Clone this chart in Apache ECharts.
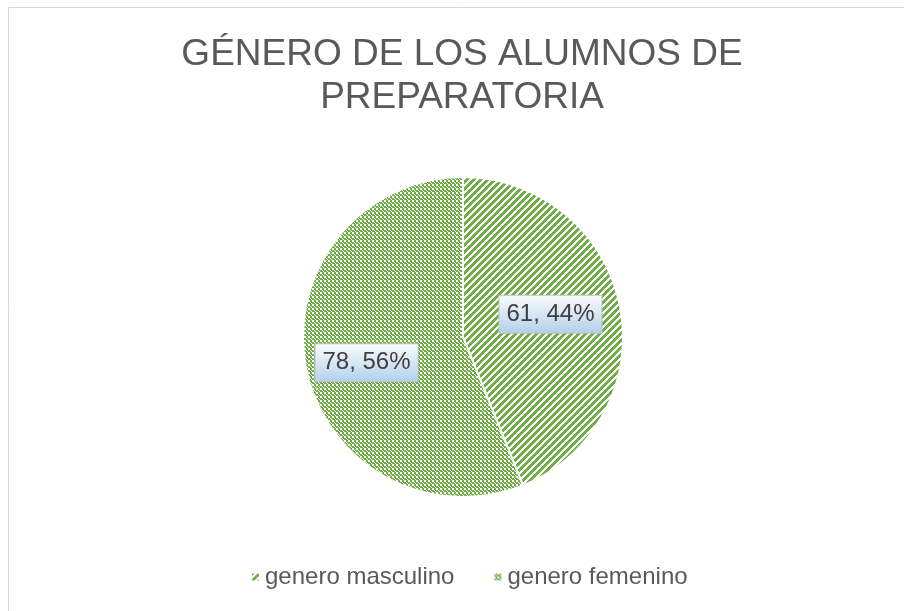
<!DOCTYPE html>
<html>
<head>
<meta charset="utf-8">
<script src="https://cdn.jsdelivr.net/npm/echarts@6/dist/echarts.min.js"></script>
<style>
  html, body { margin: 0; padding: 0; background: #fff; }
  #chart { width: 904px; height: 611px; }
</style>
</head>
<body>
<div id="chart"></div>
<script>
var categories = ['genero masculino', 'genero femenino'];
var values = [61, 78];
var percents = ['44%', '56%'];

var green = '#70ad47';

// diagonal stripes "/"
function stripeTile() {
  var n = 7;
  var c = document.createElement('canvas');
  c.width = n; c.height = n;
  var ctx = c.getContext('2d');
  ctx.fillStyle = '#fff';
  ctx.fillRect(0, 0, n, n);
  ctx.fillStyle = green;
  for (var x = 0; x < n; x++) {
    for (var y = 0; y < n; y++) {
      if ((x + y) % n < 4) ctx.fillRect(x, y, 1, 1);
    }
  }
  return c;
}

// small checker with white dots
function checkerTile() {
  var c = document.createElement('canvas');
  c.width = 4; c.height = 4;
  var ctx = c.getContext('2d');
  ctx.fillStyle = green;
  ctx.fillRect(0, 0, 4, 4);
  ctx.fillStyle = '#fff';
  ctx.fillRect(0, 0, 2, 2);
  ctx.fillRect(2, 2, 1, 1);
  ctx.fillRect(3, 3, 1, 1);
  return c;
}

var patterns = [stripeTile(), checkerTile()];

var labelBg = {
  type: 'linear', x: 0, y: 0, x2: 0, y2: 1,
  colorStops: [
    { offset: 0, color: '#fbfdff' },
    { offset: 1, color: '#b3cfea' }
  ]
};

var pieData = categories.map(function (name, i) {
  return {
    name: name,
    value: values[i],
    pct: percents[i],
    itemStyle: { color: { image: patterns[i], repeat: 'repeat' } }
  };
});

var labelShift = [[6, -7], [-15, 10]];

var option = {
  backgroundColor: '#fff',
  animation: false,
  title: {
    text: 'GÉNERO DE LOS ALUMNOS DE\nPREPARATORIA',
    left: 457,
    textAlign: 'center',
    top: 28,
    textStyle: {
      fontFamily: 'Liberation Sans, Arial, sans-serif',
      fontSize: 37,
      fontWeight: 'normal',
      color: '#595959',
      lineHeight: 43
    }
  },
  legend: {
    left: 245,
    top: 560,
    icon: 'rect',
    itemWidth: 9,
    itemHeight: 9,
    itemGap: 38,
    textStyle: {
      fontFamily: 'Liberation Sans, Arial, sans-serif',
      fontSize: 24,
      color: '#595959'
    },
    data: categories
  },
  graphic: [{
    type: 'rect',
    x: 0, y: 0,
    shape: { x: 8.5, y: 7.5, width: 1000, height: 1000 },
    style: { fill: 'none', stroke: '#d9d9d9', lineWidth: 1 },
    silent: true
  }],
  series: [{
    type: 'pie',
    center: [463, 337],
    radius: 160,
    startAngle: 90,
    clockwise: true,
    itemStyle: { borderColor: '#fff', borderWidth: 2 },
    label: {
      show: true,
      position: 'inside',
      formatter: function (p) { return p.value + ', ' + p.data.pct; },
      fontFamily: 'Liberation Sans, Arial, sans-serif',
      fontSize: 24,
      color: '#404040',
      backgroundColor: labelBg,
      borderColor: '#bfbfbf',
      borderWidth: 1,
      padding: [7, 7, 6, 7]
    },
    labelLayout: function (p) {
      var s = labelShift[p.dataIndex];
      return { dx: s[0], dy: s[1] };
    },
    emphasis: { disabled: true },
    data: pieData
  }]
};

var chart = echarts.init(document.getElementById('chart'));
chart.setOption(option);
</script>
</body>
</html>
